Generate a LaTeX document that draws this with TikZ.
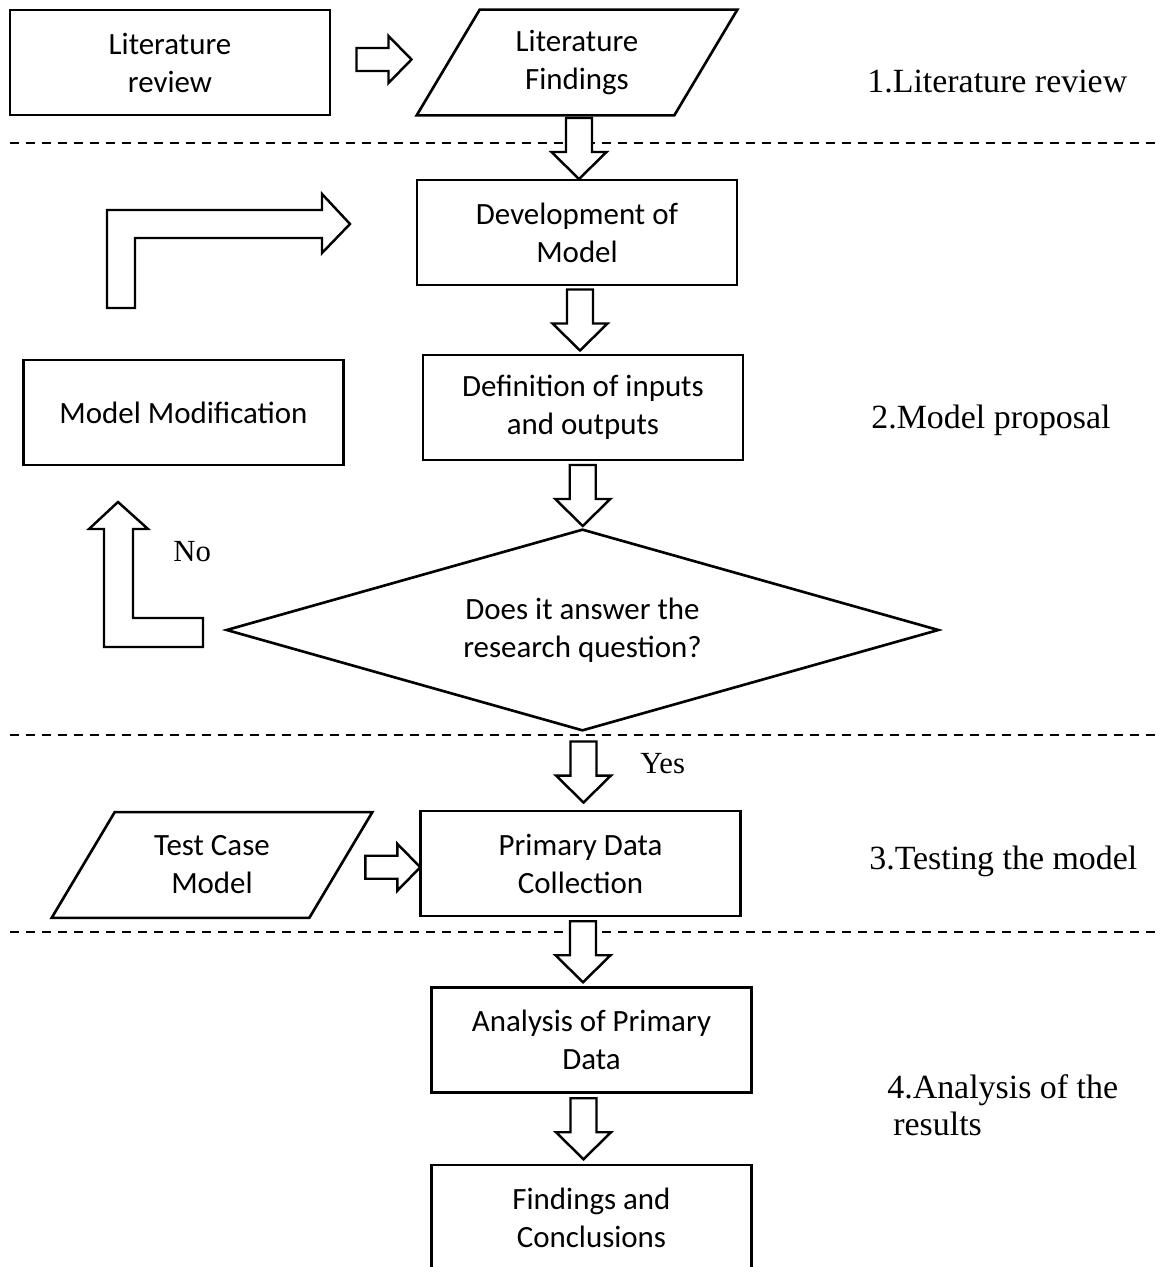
\documentclass[tikz,border=0pt]{standalone}
\usepackage{fontspec}
\setmainfont{Carlito}
\newfontfamily\phasefont{Liberation Serif}
\usetikzlibrary{calc}

\tikzset{
  boxtext/.style={font=\fontsize{17.6}{21.6}\selectfont},
  outline/.style={draw,line width=1.5pt,line join=miter},
  stage/.style={boxtext,outline,minimum width=6.4cm,minimum height=2.1cm,
    align=center,inner sep=0pt},
  % text area of an input/output step; its slanted outline is drawn afterwards
  dataio/.style={boxtext,minimum width=6.4cm,minimum height=2.1cm,align=center,inner sep=0pt},
  % text area of the decision; its diamond outline is drawn afterwards
  decision/.style={boxtext,minimum width=14.22cm,minimum height=4cm,align=center,inner sep=0pt},
  phase/.style={font=\phasefont\fontsize{19.3}{21.6}\selectfont,anchor=base west,inner sep=0pt},
  answer/.style={font=\phasefont\fontsize{17.5}{21.6}\selectfont,anchor=base west,inner sep=0pt},
  divider/.style={line width=1.1pt,dash pattern=on 0.18cm off 0.14cm},
  blk/.style={draw,line width=1.4pt,fill=white,line join=miter},
  pics/downblk/.style={code={
    \draw[blk] (0,30.5) -- (-27.5,3.5) -- (-13,3.5) -- (-13,-30.5) -- (13,-30.5)
      -- (13,3.5) -- (27.5,3.5) -- cycle;}},
  pics/rightblk/.style={code={
    \draw[blk] (27.5,0) -- (4.5,-23.5) -- (4.5,-11.5) -- (-27.5,-11.5) -- (-27.5,11.5)
      -- (4.5,11.5) -- (4.5,23.5) -- cycle;}},
}
% slanted outline of an input/output step
\newcommand\slantframe[1]{%
  \draw[outline] (#1.south west) -- ($(#1.north west)+(63,0)$) -- (#1.north east)
    -- ($(#1.south east)+(-63,0)$) -- cycle;}

\begin{document}
\begin{tikzpicture}[x=0.02cm,y=-0.02cm]
  \path[use as bounding box] (0,0) rectangle (1161,1267);
  \fill[white] (0,0) rectangle (1161,1267);
  \clip (0,0) rectangle (1161,1267);

  % phase dividers
  \draw[divider] (10,143) -- (1161,143);
  \draw[divider] (10,735) -- (1161,735);
  \draw[divider] (10,932) -- (1161,932);

  % process steps
  \node[stage]  (litrev)   at (170,62.5)    {Literature\\review};
  \node[dataio] (litfind)  at (577,62.5)    {Literature\\Findings};
  \node[stage]  (develop)  at (577,232.5)   {Development of\\Model};
  \node[stage]  (define)   at (583,407.5)   {Definition of inputs\\and outputs};
  \node[stage]  (modify)   at (183.5,412.5) {Model Modification};
  \node[decision] (answers) at (582.5,630)  {Does it answer the\\research question?};
  \node[stage]  (collect)  at (580.5,863.5) {Primary Data\\Collection};
  \node[dataio] (testcase) at (212,865)     {Test Case\\Model};
  \node[stage]  (analyse)  at (591.5,1040)  {Analysis of Primary\\Data};
  \node[stage]  (findings) at (591.5,1217.5){Findings and\\Conclusions};

  \slantframe{litfind}
  \slantframe{testcase}
  \draw[outline] (answers.west) -- (answers.north) -- (answers.east) -- (answers.south) -- cycle;

  % block arrows between steps
  \pic at ($(litrev.east)!0.5!(litfind.west)+(10,-3)$) {rightblk};
  \pic at ($(litfind.south)!0.5!(develop.north)+(2,1.5)$) {downblk};
  \pic at ($(develop.south)!0.5!(define.north)$) {downblk};
  \pic at ($(define.south)!0.5!(answers.north)$) {downblk};
  \pic at ($(answers.south)!0.5!(collect.north)+(2,2)$) {downblk};
  \pic at ($(testcase.east)!0.5!(collect.west)+(-3,3)$) {rightblk};
  \pic at ($(collect.south)!0.5!(analyse.north)+(-3,0)$) {downblk};
  \pic at ($(analyse.south)!0.5!(findings.north)+(-8,0)$) {downblk};

  % feedback loop: "No" back to model modification, then on to development
  \draw[blk] (118,502) -- (148,529) -- (133,529) -- (133,618) -- (203,618)
    -- (203,647) -- (104,647) -- (104,529) -- (89,529) -- cycle;
  \draw[blk] (107,308) -- (107,210) -- (322,210) -- (322,194) -- (350,224)
    -- (322,253) -- (322,238) -- (135,238) -- (135,308) -- cycle;

  \node[answer] (no)  at (173,561) {No};
  \node[answer] (yes) at (640,773) {Yes};

  % phase labels
  \node[phase] (ph1)  at (867,93)   {1.Literature review};
  \node[phase] (ph2)  at (871,428)  {2.Model proposal};
  \node[phase] (ph3)  at (869,869)  {3.Testing the model};
  \node[phase] (ph4a) at (887,1098) {4.Analysis of the};
  \node[phase] (ph4b) at (893,1135) {results};
\end{tikzpicture}
\end{document}
